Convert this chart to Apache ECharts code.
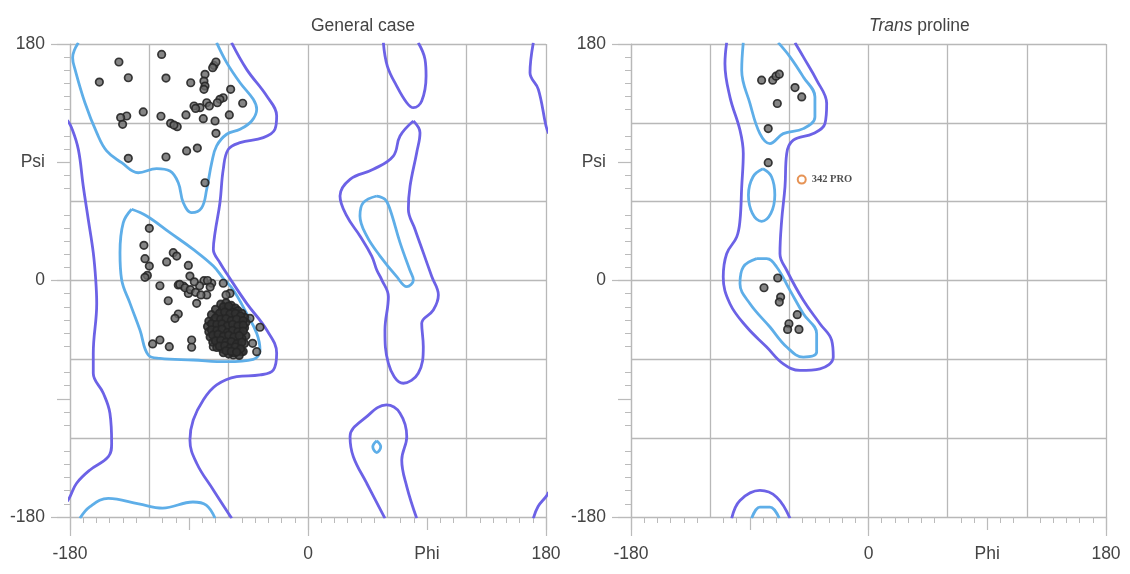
<!DOCTYPE html>
<html>
<head>
<meta charset="utf-8">
<script src="https://cdn.jsdelivr.net/npm/echarts@6/dist/echarts.min.js"></script>
<style>html,body{margin:0;padding:0;background:#fff;}#c{width:1130px;height:574px;}</style>
</head>
<body>
<div id="c"></div>
<script>
// ---------- tick labels ----------
const xTickLabels = {'-180':'-180','0':'0','90':'Phi','180':'180'};
const yTickLabels = {'-180':'-180','0':'0','90':'Psi','180':'180'};
const panelTitles = ['General case', '{i|Trans} proline'];

// ---------- General case contours [phi, psi] ----------
const gcFavBeta = [[-173.7,181],[-178,169.6],[-176.2,160.7],[-168.7,135.3],[-159.8,112.5],[-152.3,98.6],[-140.9,89.7],[-128.4,82],[-114.5,85.1],[-104.4,83.3],[-98.1,74.4],[-94.3,59.2],[-88,51.6],[-80.4,55.4],[-76.6,69.4],[-72.8,89.7],[-69.1,102.4],[-61.5,111.3],[-51.4,115.1],[-42.6,121.4],[-38.8,130.3],[-41.4,137.9],[-51.4,150.5],[-61.5,165.8],[-69.1,181]];
const gcFavBetaWrap = [[-172.5,-181],[-164.9,-172.1],[-151,-165.8],[-128,-170],[-110,-173.2],[-87,-168.6],[-77,-171],[-70.3,-181]];
const gcFavAlpha = [[-133.4,54.2],[-122,49.1],[-104.4,36.4],[-86.8,23.7],[-71.6,11],[-64,1.5],[-56.5,-7.2],[-46.4,-25],[-38.8,-40.2],[-36.3,-52.9],[-41.4,-60],[-61.5,-61.8],[-86.8,-60.5],[-112,-59.2],[-120.8,-56.7],[-127.1,-37.7],[-134.6,-17.4],[-141,0.9],[-142.2,21.2],[-139.7,44],[-133.4,54.2]];
const gcFavMid = [[52,64.3],[58.2,61.8],[62,54.2],[69.6,28.8],[77,8],[79.7,0.4],[74.7,-4.7],[67.1,2.9],[54.5,18.6],[44.4,33.9],[39.3,49.1],[41.8,59.2],[52,64.3]];
const gcFavSmall = [[52,-122],[55,-126.5],[52,-131],[49,-126.5],[52,-122]];
const gcAllowMain = [[-57.8,181],[-46.4,160.7],[-31.2,140.4],[-23.7,125.2],[-25,115.1],[-33.8,108.7],[-51.4,104.9],[-60.3,99.8],[-64.1,84.6],[-66.6,59.2],[-70.3,36.4],[-71.6,23.7],[-66.6,13.5],[-60,3],[-46.4,-17.4],[-31.2,-37.7],[-23.7,-55.4],[-26.2,-68.1],[-36.3,-71.9],[-53.9,-73.2],[-69.1,-79.5],[-79.2,-90.9],[-86.8,-106.2],[-89.3,-121.4],[-84.2,-139.1],[-71.6,-159.4],[-57.7,-181]];
const gcAllowLeft = [[-182,122],[-178.8,116.3],[-173.7,99.8],[-170,71.9],[-166.2,46.6],[-162.4,21.2],[-160.5,0],[-159.8,-17.4],[-162.4,-55.4],[-162.4,-70.6],[-154.8,-85.8],[-149.8,-101],[-148.5,-123.9],[-151,-134.1],[-164.9,-144.2],[-175,-154.3],[-180,-164.5],[-182,-168]];
const gcAllowRightTop = [[170.4,181],[167.9,158.1],[174.2,145.5],[180,117.6],[182,112]];
const gcAllowRightBot = [[182,-161],[180,-164.5],[174,-172],[170.4,-181]];
const gcAllowMid = [[79.7,121.4],[84.7,112.5],[82.2,97.3],[77.2,71.9],[75.9,54.2],[80.9,39],[87.2,21.2],[93.6,3],[98.6,-11],[94.8,-22.5],[86,-32.6],[87.2,-50.4],[83.4,-70.6],[72.1,-78.2],[60.8,-63],[58.2,-37.7],[60.8,-12.3],[55.8,0.5],[52,8],[48.2,18.6],[39.3,33.9],[29.3,49.1],[24.2,64.3],[31.8,77],[49.4,84.6],[64.5,94.7],[69.6,110],[79.7,121.4]];
const gcAllowTopMid = [[57,181],[60,163.2],[67.1,148],[74.7,135.3],[79.7,131.5],[86,136.6],[89.3,155.6],[88.5,168.3],[83.4,181]];
const gcAllowBotMid = [[58.2,-181],[44.4,-154.3],[34.3,-134.1],[31.8,-118.9],[44.4,-103.6],[59.3,-94.7],[69.6,-101],[74.7,-118.9],[70.9,-136.6],[74.7,-156.9],[82.2,-181]];

// ---------- General case residues [phi, psi] ----------
const gcBetaPoints = [[-110.7,172.1],[-143,166.3],[-135.9,154.3],[-157.8,151],[-107.4,154.1],[-88.7,150.5],[-71.1,163.7],[-69.6,166.3],[-72.1,162],[-77.9,156.9],[-78.7,151.8],[-77.9,148],[-78.7,145.5],[-58.5,145.5],[-64.1,139.1],[-66.6,137.9],[-68.6,135.3],[-49.4,134.9],[-76.6,135.3],[-81.7,131.5],[-86.2,132.8],[-85,131],[-74.6,132.8],[-92.3,126],[-79.2,123.2],[-70.3,121.4],[-59.5,126],[-69.6,112],[-111.2,125],[-124.6,128.3],[-137.1,125.2],[-141.7,124],[-140.2,118.9],[-103.9,119.6],[-98.9,117.1],[-101.4,118.3],[-91.8,98.6],[-83.7,100.8],[-135.9,93],[-107.4,94],[-77.9,74.4]];
const gcAlphaPoints = [[-120,39.7],[-124.1,26.8],[-123.3,16.6],[-120,11],[-101.9,21.2],[-99.3,18.6],[-106.9,14.1],[-90.5,11.5],[-121.5,3.9],[-89.3,3.4],[-123.3,2.4],[-112,-4],[-98.1,-3.4],[-94.3,-4.2],[-90.5,-9.8],[-78.7,-0.1],[-72.8,-2.1],[-76.6,-11],[-84.2,-17.4],[-64.1,-2.1],[-59,-9.8],[-105.7,-15.4],[-98.1,-25.5],[-100.6,-28.8],[-117.5,-48.3],[-112,-45.3],[-104.9,-50.4],[-88,-45.3],[-88,-50.8],[-71.6,-50.4],[-56.5,-30.1],[-43.9,-28.8],[-36.3,-35.6],[-41.9,-47.8],[-38.8,-54.2],[-50.2,-54.2],[-56.5,-56.7],[-62,-11],[-97,-3],[-93,-5.5],[-89,-7],[-85,-9],[-81,-11],[-76,0],[-74,-5],[-82,-4],[-86,-1]];
const gcClusterPoints = [[-66,-18],[-62,-17],[-58,-19],[-55,-21],[-70,-22],[-65,-23],[-61,-21],[-57,-24],[-53,-23],[-50,-25],[-73,-26],[-68,-27],[-64,-26],[-60,-28],[-56,-27],[-52,-29],[-48,-28],[-75,-31],[-71,-30],[-67,-32],[-63,-31],[-59,-33],[-55,-31],[-51,-33],[-47,-32],[-76,-35],[-72,-34],[-68,-36],[-64,-35],[-60,-37],[-56,-35],[-52,-37],[-48,-36],[-75,-39],[-71,-40],[-67,-39],[-63,-41],[-59,-39],[-55,-41],[-51,-40],[-47,-42],[-74,-43],[-70,-44],[-66,-43],[-62,-45],[-58,-44],[-54,-46],[-50,-44],[-72,-47],[-68,-48],[-64,-47],[-60,-49],[-56,-48],[-52,-50],[-48,-48],[-69,-51],[-65,-52],[-61,-51],[-57,-53],[-53,-52],[-49,-54],[-64,-55],[-60,-56],[-56,-55],[-52,-57],
  [-64,-20],[-60,-19.5],[-67,-25],[-63,-24],[-59,-25.5],[-55,-25],[-51,-27],[-70,-28.5],[-66,-29.5],[-62,-29],[-58,-30.5],[-54,-29.5],[-49,-30.5],[-73,-33],[-69,-33.5],[-65,-33],[-61,-34.5],[-57,-33.5],[-53,-34.5],[-49,-34],[-73,-37.5],[-69,-38],[-65,-37],[-61,-39.5],[-57,-38],[-53,-39],[-49,-38.5],[-72,-41.5],[-68,-41],[-64,-42.5],[-60,-41.5],[-56,-43],[-52,-42],[-70,-46],[-66,-45.5],[-62,-47],[-58,-46.5],[-54,-48.5],[-50,-47],[-67,-50],[-63,-49.5],[-59,-51.5],[-55,-50.5],[-51,-52],[-62,-53.5],[-58,-54],[-54,-54.5]];

// ---------- Trans proline contours [phi, psi] ----------
const tpAllow = [[-107.5,181],[-108.8,165],[-105,139.6],[-97.4,114.4],[-94.9,96.6],[-96.1,71.2],[-97.4,45.8],[-99.9,33.1],[-107.5,20.4],[-110.1,2.7],[-105,-17.7],[-92.3,-35.4],[-77.2,-50.6],[-64.6,-63.4],[-51.9,-68.4],[-36.8,-67.2],[-26.7,-58.3],[-27.9,-45.6],[-36.8,-32.9],[-49.4,-15.1],[-62,7.8],[-67.1,20.4],[-65.8,45.8],[-63.3,71.2],[-62,96.6],[-57,106.8],[-41.8,111.8],[-33,119.4],[-31.7,134.7],[-39.3,152.5],[-49.4,170.2],[-55.7,181]];
const tpAllowWrap = [[-103.7,-181],[-97.4,-167.4],[-82.3,-159.8],[-69.6,-164.9],[-59.5,-181]];
const tpFavTop = [[-94.9,181],[-96.1,160],[-89.8,134.7],[-82.3,111.8],[-74.7,104.2],[-64.6,111.8],[-49.4,115.6],[-40.6,124.5],[-40.6,139.6],[-49.4,154.9],[-59.5,170.2],[-68.4,181]];
const tpFavWrap = [[-88.6,-181],[-82.3,-172.5],[-74.7,-172.5],[-67.6,-181]];
const tpFavMid = [[-80,85],[-73.5,79],[-71,65],[-74,51],[-81,45],[-88,51],[-91,65],[-87.5,79],[-80,85]];
const tpFavAlpha = [[-84.8,16.6],[-94.9,10.3],[-97.4,-2.4],[-89.8,-17.7],[-74.7,-35.4],[-62,-50.6],[-49.4,-58.3],[-39.3,-54.5],[-39.3,-40.5],[-49.4,-25.3],[-59.5,-7.5],[-69.6,10.3],[-77.2,16.6],[-84.8,16.6]];

// ---------- Trans proline residues ----------
const tpPoints = [[-81,152.5],[-72.6,152.5],[-70.1,155.5],[-67.6,157],[-55.7,146.8],[-50.6,139.7],[-69.1,134.7],[-76,115.6],[-76,89.7],[-68.8,1.9],[-79.2,-5.5],[-66.6,-12.6],[-67.6,-16.4],[-54,-26],[-60.3,-32.9],[-61.3,-37.2],[-52.7,-37.2]];
const tpOutliers = [[-50.6,76.8]];
const tpOutlierLabels = ['342 PRO'];

// ---------- build ----------
const FAV = '#5eaee8';
const ALLOW = '#6c62e6';
const GRIDC = '#b8b8b8';
const FONT = "'Liberation Sans', Arial, sans-serif";
const FS = 17.5;

const grids = [
  {left:70, top:44, width:476, height:473, outerBoundsMode:'none', containLabel:false},
  {left:631, top:44, width:475, height:473, outerBoundsMode:'none', containLabel:false}
];

function axesFor(dim, g) {
  const labels = dim === 'x' ? xTickLabels : yTickLabels;
  const pos = dim === 'x' ? 'bottom' : 'left';
  const A = {type:'value', gridIndex:g, position:pos, offset:0, min:-180, max:180, interval:60,
    axisLine:{show:true, onZero:false, lineStyle:{color:GRIDC, width:1.2}},
    axisTick:{show:false},
    minorTick:{show:true, splitNumber:6, length:6, lineStyle:{color:'#bbb', width:1}},
    splitLine:{show:true, lineStyle:{color:GRIDC, width:1.3}},
    minorSplitLine:{show:false},
    axisLabel:{show:false}};
  const B = {type:'value', gridIndex:g, position:pos, offset:0, min:-180, max:180, interval:90,
    axisLine:{show:false, onZero:false},
    axisTick:{show:true, length:13, lineStyle:{color:'#bbb', width:1.2}},
    splitLine:{show:false},
    axisLabel:{show:true, showMinLabel:true, showMaxLabel:true, margin: dim==='x' ? 28 : 25,
      color:'#444', fontSize:FS, fontFamily:FONT,
      formatter: v => labels[String(v)] || ''}};
  const C = {type:'value', gridIndex:g, position:pos, offset:0, min:-180, max:180, interval:180,
    axisLine:{show:false, onZero:false},
    axisTick:{show:true, length:19, lineStyle:{color:'#bbb', width:1.2}},
    splitLine:{show:false}, axisLabel:{show:false}};
  return [A, B, C];
}

const xAxis = [...axesFor('x',0), ...axesFor('x',1)];
const yAxis = [...axesFor('y',0), ...axesFor('y',1)];

function contour(data, color, panel) {
  return {type:'line', xAxisIndex:panel*3, yAxisIndex:panel*3, data:data, smooth:0.4,
    symbol:'none', silent:true, z:2, clip:true, lineStyle:{color:color, width:2.8}};
}
function residues(data, panel, fill) {
  return {type:'scatter', xAxisIndex:panel*3, yAxisIndex:panel*3, data:data, symbol:'circle',
    symbolSize:7.5, z:5, silent:true,
    itemStyle:{color:fill || 'rgba(105,105,105,0.9)', borderColor:'#262626', borderWidth:1.7, opacity:0.9}};
}

const series = [
  contour(gcAllowMain, ALLOW, 0), contour(gcAllowLeft, ALLOW, 0), contour(gcAllowRightTop, ALLOW, 0),
  contour(gcAllowRightBot, ALLOW, 0), contour(gcAllowMid, ALLOW, 0), contour(gcAllowTopMid, ALLOW, 0),
  contour(gcAllowBotMid, ALLOW, 0),
  contour(gcFavBeta, FAV, 0), contour(gcFavBetaWrap, FAV, 0), contour(gcFavAlpha, FAV, 0),
  contour(gcFavMid, FAV, 0), contour(gcFavSmall, FAV, 0),
  residues(gcBetaPoints, 0), residues(gcAlphaPoints, 0), residues(gcClusterPoints, 0, 'rgba(50,50,50,0.95)'),
  contour(tpAllow, ALLOW, 1), contour(tpAllowWrap, ALLOW, 1),
  contour(tpFavTop, FAV, 1), contour(tpFavWrap, FAV, 1), contour(tpFavMid, FAV, 1), contour(tpFavAlpha, FAV, 1),
  residues(tpPoints, 1),
  {type:'scatter', xAxisIndex:3, yAxisIndex:3, data:tpOutliers, symbol:'emptyCircle', symbolSize:8, z:6, silent:true,
    itemStyle:{color:'#e0782a', borderColor:'#e0782a', borderWidth:1.8},
    label:{show:true, position:'right', distance:5, formatter: p => tpOutlierLabels[p.dataIndex],
      fontFamily:"'Liberation Serif','DejaVu Serif',serif", fontWeight:'bold', fontSize:10.5, color:'#222'}}
];

const chart = echarts.init(document.getElementById('c'), null, {renderer:'canvas'});
chart.setOption({
  animation:false,
  backgroundColor:'#fff',
  title: [
    {text:panelTitles[0], left:306, top:12, textStyle:{fontFamily:FONT, fontSize:FS, fontWeight:'normal', color:'#444'}},
    {text:panelTitles[1], left:864, top:12, textStyle:{fontFamily:FONT, fontSize:FS, fontWeight:'normal', color:'#444',
      rich:{i:{fontStyle:'italic', fontFamily:FONT, fontSize:FS, color:'#444'}}}}
  ],
  grid: grids,
  xAxis: xAxis,
  yAxis: yAxis,
  series: series
});
</script>
</body>
</html>
